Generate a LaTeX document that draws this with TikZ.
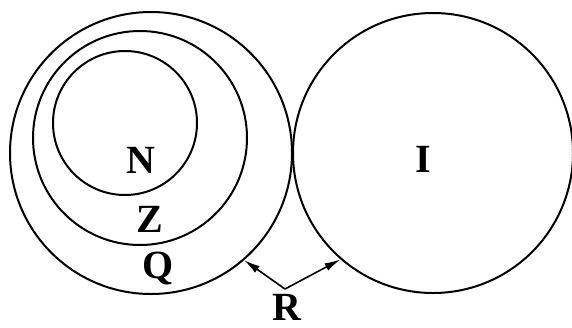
\documentclass[tikz,border=0pt]{standalone}
\usepackage{fontspec}
\setmainfont{Liberation Serif}
\usetikzlibrary{arrows.meta}

\begin{document}
\begin{tikzpicture}[x=1pt,y=-1pt,
  set/.style={draw, circle, line width=2pt, inner sep=0pt},
  lbl/.style={font=\fontsize{40}{44}\selectfont\bfseries, inner sep=0pt, anchor=base, text depth=0pt},
  arr/.style={-{Latex[length=16pt,width=8pt]}, line width=1.6pt},
]
  \useasboundingbox (0,0) rectangle (572,327);
  \node[set, minimum size=282pt] (Q) at (151,153) {};
  \node[set, minimum size=214pt] (Z) at (140,138) {};
  \node[set, minimum size=144pt] (N) at (125,123) {};
  \node[set, minimum size=280pt] (I) at (433,153) {};

  \node[lbl] (labN) at (141,173) {N};
  \node[lbl] (labZ) at (150,232) {Z};
  \node[lbl] (labQ) at (158,278) {Q};
  \node[lbl] (labI) at (423,172) {I};
  \node[lbl] (labR) at (287,320) {R};

  \coordinate (apex) at (285,289);
  \draw[arr] (apex) -- (Q.-49);
  \draw[arr] (apex) -- (I.-131);
\end{tikzpicture}
\end{document}
